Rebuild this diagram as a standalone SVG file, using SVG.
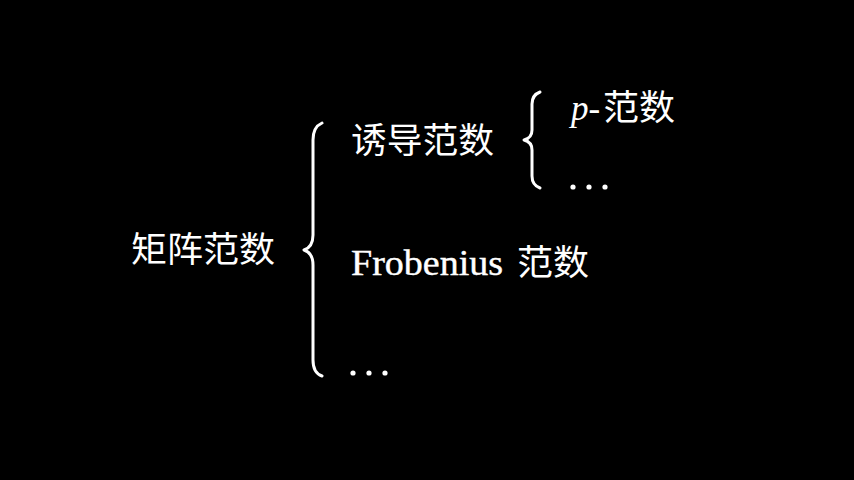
<svg xmlns="http://www.w3.org/2000/svg" width="854" height="480" viewBox="0 0 854 480">
<style>
.t{fill:#fff;font-family:"Liberation Serif","DejaVu Serif",serif;font-size:35px}
.c{fill:#fff;font-family:"Noto Sans CJK SC","Noto Sans CJK TC",sans-serif;font-size:35px}
.br{fill:none;stroke:#fff;stroke-width:3;stroke-linecap:round;stroke-linejoin:round}
.d{fill:#fff}
</style>
<rect width="854" height="480" fill="#000"/>
<g id="root"><text class="c" x="131" y="262" textLength="144" lengthAdjust="spacingAndGlyphs">矩阵范数</text></g>
<g id="induced"><text class="c" x="351" y="153" textLength="143" lengthAdjust="spacingAndGlyphs">诱导范数</text></g>
<g id="pnorm"><text class="t" x="571" y="120"><tspan font-style="italic">p</tspan>-</text><text class="c" x="603" y="120" textLength="72" lengthAdjust="spacingAndGlyphs">范数</text></g>
<g id="dots1"><circle class="d" cx="573" cy="187" r="2.6"/><circle class="d" cx="589" cy="187" r="2.6"/><circle class="d" cx="605" cy="187" r="2.6"/></g>
<g id="frob"><text class="t" x="351" y="275" textLength="152" lengthAdjust="spacingAndGlyphs" stroke="#fff" stroke-width="0.4">Frobenius</text><text class="c" x="517" y="275" textLength="72" lengthAdjust="spacingAndGlyphs">范数</text></g>
<g id="dots2"><circle class="d" cx="353" cy="373" r="2.6"/><circle class="d" cx="369" cy="373" r="2.6"/><circle class="d" cx="385" cy="373" r="2.6"/></g>
<g id="connectors">
<path class="br" d="M322,123 Q313,127 313,140 L313,235 Q313,247 304,250 Q313,253 313,265 L313,360 Q313,373 322,376"/>
<path class="br" d="M540,92 Q532,95 532,104 L532,130 Q532,138 524,140 Q532,142 532,150 L532,176 Q532,185 540,188"/>
</g>
</svg>
